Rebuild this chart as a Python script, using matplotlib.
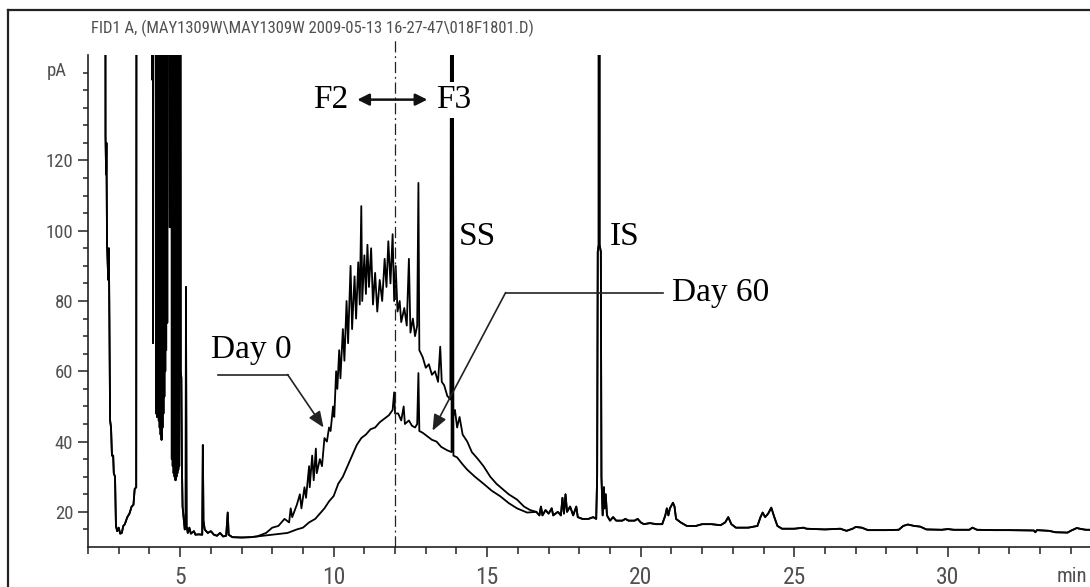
import matplotlib
matplotlib.use('Agg')
import numpy as np
import matplotlib.pyplot as plt
from matplotlib import font_manager
from matplotlib.lines import Line2D

# --- data (time in min, signal in pA) ---
# shared start of both runs (solvent + early peaks)
front_t = [2.00, 2.55, 2.57, 2.59, 2.60, 2.62, 2.66, 2.68, 2.72, 2.75, 2.78, 2.82, 2.84, 2.88,
           2.91, 2.95, 3.00, 3.05, 3.10, 3.15, 3.20, 3.28, 3.35, 3.42, 3.48, 3.52, 3.57, 3.59,
           4.08, 4.09, 4.10, 4.12, 4.14, 4.20, 4.215, 4.23, 4.245, 4.26, 4.275, 4.29, 4.305, 4.32,
           4.335, 4.35, 4.365, 4.38, 4.395, 4.41, 4.425, 4.44, 4.455, 4.47, 4.485, 4.50, 4.515,
           4.53, 4.545, 4.56, 4.58, 4.60, 4.66, 4.69, 4.71, 4.73, 4.745, 4.76, 4.775, 4.79, 4.805,
           4.82, 4.835, 4.85, 4.865, 4.88, 4.895, 4.91, 4.925, 4.94, 4.955, 4.97, 4.985, 5.00,
           5.02, 5.04, 5.06, 5.08, 5.12, 5.15, 5.18,
           5.19, 5.21, 5.25, 5.30, 5.35, 5.45, 5.50, 5.60, 5.72, 5.74, 5.76, 5.80, 5.90, 6.00,
           6.10, 6.20, 6.30, 6.40, 6.50, 6.55, 6.58, 6.70, 7.00, 7.30]
front_v = [400, 400, 127, 116, 125, 96, 86, 95, 46, 44, 36, 36, 31, 30,
           16, 14.5, 15.5, 13.8, 14, 16, 16.5, 18.5, 19.5, 21.5, 22, 26.5, 27, 400,
           400, 143, 400, 68, 400, 400, 48, 400, 47, 400, 50, 400, 46, 400,
           44, 400, 42, 400, 40.5, 400, 44, 400, 48, 400, 52.8, 400, 60,
           400, 66, 400, 73.8, 400, 101, 101, 400, 35, 400, 33, 400, 31, 400,
           30, 400, 29, 400, 30, 400, 31, 400, 32, 400, 33, 400, 400,
           60, 58, 32, 21.5, 17.8, 15, 15.5,
           84, 16, 14, 15.5, 13.8, 14.5, 13.5, 13.6, 13.5, 39, 17.5, 15, 14, 14.5,
           13.5, 13.2, 14, 13, 13.2, 19.8, 13.5, 12.8, 12.7, 12.8]

# Day 0 hump (7.5 - 16.4 min)
day0_t = [7.50, 7.80, 8.00, 8.20, 8.40, 8.55, 8.60, 8.65, 8.80, 8.90, 8.95, 9.05, 9.10, 9.20,
          9.22, 9.30, 9.35, 9.42, 9.45, 9.55, 9.62, 9.70, 9.78, 9.85, 9.90, 9.98, 10.02, 10.08,
          10.12, 10.18, 10.22, 10.30, 10.35, 10.42, 10.47, 10.55, 10.60, 10.68, 10.73, 10.80,
          10.85, 10.90, 10.93, 11.00, 11.05, 11.10, 11.15, 11.22, 11.28, 11.35, 11.42, 11.50,
          11.58, 11.66, 11.72, 11.78, 11.85, 11.92, 11.97, 12.02, 12.08, 12.15, 12.20, 12.30,
          12.38, 12.45, 12.50, 12.58, 12.65, 12.72, 12.76, 12.79, 12.90, 13.00, 13.10, 13.20,
          13.30, 13.40, 13.47, 13.52, 13.60, 13.70, 13.80, 13.86, 13.89, 13.95, 14.02, 14.10,
          14.20, 14.35, 14.50, 14.70, 14.88, 15.10, 15.30, 15.50, 15.70, 15.97, 16.20, 16.40]
day0_v = [13, 14, 15.5, 16, 18, 17, 21, 18.5, 22, 25, 21, 27, 24, 33,
          27, 36, 29, 38, 31, 35, 33, 41, 40, 44, 43, 50, 47, 60,
          55, 66, 58, 72, 63, 80, 68, 90, 72, 87, 75, 91,
          79, 107, 80, 93, 82, 96, 84, 95, 79, 88, 77, 86,
          80, 92, 84, 97, 85, 99, 80, 90, 77, 80, 74, 78,
          73, 92, 71, 75, 70, 73, 113.6, 66, 64, 61, 62, 59,
          60, 57, 67, 57, 56, 53, 52, 400, 47, 49, 44, 47,
          42, 40, 37, 35, 33, 30, 28, 26.5, 25, 23.5, 21.5, 20.5]

# Day 60 hump (7.5 - 16.3 min)
day60_t = [7.50, 8.00, 8.50, 8.80, 9.00, 9.20, 9.40, 9.50, 9.70, 9.85, 10.00, 10.15, 10.30,
           10.45, 10.60, 10.75, 10.90, 11.05, 11.20, 11.35, 11.50, 11.65, 11.80, 11.92, 11.97,
           12.00, 12.10, 12.20, 12.28, 12.32, 12.45, 12.55, 12.65, 12.72, 12.76, 12.79, 12.90,
           13.05, 13.20, 13.35, 13.50, 13.70, 13.84, 13.86, 13.90, 14.02, 14.20, 14.35, 14.60,
           14.88, 15.15, 15.43, 15.70, 15.97, 16.30]
day60_v = [13, 13.5, 14, 15, 15.5, 17, 18, 19, 21, 23, 24.5, 28, 30,
           33, 36, 39, 41, 42, 43.5, 44, 45.5, 46.5, 47.5, 49, 54,
           48, 48, 46, 50, 45, 46, 44.5, 44, 45, 59.5, 43, 42.5,
           41.5, 40.5, 40, 38.5, 37.5, 37, 400, 36, 35.5, 33.5, 32, 30,
           28, 26, 24.4, 22.5, 21, 19.8]

# shared tail of both runs (IS peak and late baseline)
tail_t = [16.60, 16.70, 16.75, 16.80, 16.90, 17.00, 17.10, 17.15, 17.30, 17.40, 17.45, 17.50,
          17.55, 17.60, 17.70, 17.80, 17.90, 17.95, 18.10, 18.30, 18.45, 18.55, 18.58, 18.60,
          18.63, 18.635, 18.655, 18.66, 18.70, 18.72, 18.76, 18.80, 18.82, 18.86, 18.90, 19.00,
          19.10, 19.20,
          19.40, 19.50, 19.60, 19.80, 19.90, 20.00, 20.10, 20.30, 20.50, 20.70, 20.80, 20.85,
          20.90, 20.95, 21.05, 21.10, 21.15, 21.30, 21.50, 21.80, 22.00, 22.30, 22.60, 22.75,
          22.85, 22.95, 23.10, 23.50, 23.80, 23.90, 23.97, 24.05, 24.15, 24.25, 24.35, 24.45,
          24.60, 25.00, 25.30, 25.40, 26.00, 26.50, 26.70, 26.90, 27.00, 27.20, 27.40, 28.00,
          28.40, 28.55, 28.70, 28.90, 29.10, 29.30, 29.80, 30.00, 30.20, 30.70, 30.80, 30.95,
          31.50, 32.00, 32.80, 32.85, 32.90, 33.30, 33.50, 33.90, 34.00, 34.20, 34.35, 34.50,
          34.70]
tail_v = [20, 19, 21.5, 19, 20.5, 19.5, 21, 19, 20, 19, 24, 19.5,
          25, 20, 21.5, 19, 21.5, 18.5, 18, 18, 18.5, 18, 30, 94,
          96, 400, 400, 96, 94, 30, 19, 27, 21, 25, 19, 17.5,
          18.5, 17.5,
          17.5, 18, 17.5, 17.5, 18, 17, 16.5, 16.8, 16.5, 16.5, 19, 21,
          19, 21, 22.6, 21.5, 18, 17, 16, 16, 16.5, 16.5, 16.2, 17,
          18.5, 16.5, 15.5, 15.5, 16, 18.5, 19.8, 18.5, 19.5, 21.2, 18.5, 16,
          15.2, 15.2, 15.5, 15.2, 15, 15.2, 14.6, 15.2, 15.7, 15.5, 14.8, 14.8,
          14.9, 16, 16.4, 16, 15.8, 15, 14.9, 15.1, 14.9, 14.9, 15.5, 14.9,
          14.8, 14.8, 14.7, 14.2, 14.8, 14.6, 14.2, 14.1, 14.6, 15.4, 15.1, 14.9,
          14.9]

x_ticks = [5, 10, 15, 20, 25, 30]
y_ticks = [20, 40, 60, 80, 100, 120]
title = 'FID1 A, (MAY1309W\\MAY1309W 2009-05-13 16-27-47\\018F1801.D)'

# fonts
avail = {f.name for f in font_manager.fontManager.ttflist}
narrow = next((n for n in ['Liberation Sans Narrow', 'Roboto Condensed', 'DejaVu Sans Condensed']
               if n in avail), 'DejaVu Sans')
serif = 'Liberation Serif' if 'Liberation Serif' in avail else 'DejaVu Serif'
grey = '#505050'
fam = [narrow, 'DejaVu Sans']

fig = plt.figure(figsize=(10.9, 5.87), dpi=100)
ax = fig.add_axes([88 / 1090, 40 / 587, 1 - 88 / 1090, 492 / 587])

t0 = front_t + day0_t + tail_t
v0 = front_v + day0_v + tail_v
t60 = front_t + day60_t + tail_t
v60 = front_v + day60_v + tail_v
ax.plot(t60, v60, color='black', lw=1.3)
ax.plot(t0, v0, color='black', lw=1.3)

ax.set_xlim(2.0, 34.63)
ax.set_ylim(10, 150)

for s in ['top', 'right']:
    ax.spines[s].set_visible(False)
for s in ['left', 'bottom']:
    ax.spines[s].set_color('#222222')
    ax.spines[s].set_linewidth(1.2)

ax.set_xticks(x_ticks)
ax.set_xticks(np.arange(2, 35, 1), minor=True)
ax.set_yticks(y_ticks)
ax.set_yticks(np.arange(15, 150, 5), minor=True)
ax.set_xticklabels([str(v) for v in x_ticks], family=fam, fontsize=17,
                   color=grey, fontstretch='condensed')
ax.set_yticklabels([str(v) for v in y_ticks], family=fam, fontsize=13.5,
                   color=grey, fontstretch='condensed')
ax.tick_params(axis='x', which='major', length=7.5, width=1.1, pad=6, color='#222222')
ax.tick_params(axis='x', which='minor', length=5, width=1.1, color='#222222')
ax.tick_params(axis='y', which='major', length=7.5, width=1.1, pad=3, color='#222222')
ax.tick_params(axis='y', which='minor', length=3.8, width=1.1, color='#222222')

# unit labels
fig.text(67 / 1090, 1 - 71 / 587, 'pA', ha='right', va='center', family=fam,
         fontsize=13.5, color=grey, fontstretch='condensed')
fig.text(1087 / 1090, 1 - 577 / 587, 'min', ha='right', va='center', family=fam,
         fontsize=15, color=grey, fontstretch='condensed')
fig.text(312 / 1090, 1 - 28 / 587, title, ha='center', va='center',
         family=fam, fontsize=12, color=grey, fontstretch='condensed')

# outer frame (left and top edges visible)
fig.add_artist(Line2D([8 / 1090, 8 / 1090], [0, 1 - 10 / 587], color='#222222', lw=1.6))
fig.add_artist(Line2D([8 / 1090, 1], [1 - 10 / 587, 1 - 10 / 587], color='#222222', lw=1.6))

# F2 / F3 cut point
ax.plot([12.0, 12.0], [10, 154.4], color='#222222', lw=0.9, ls=(0, (9, 3, 1.5, 3)), clip_on=False)
ax.annotate('', xy=(10.77, 137.3), xytext=(13.05, 137.3),
            arrowprops=dict(arrowstyle='<|-|>,head_length=0.5,head_width=0.25', color='#111111',
                            lw=1.8, mutation_scale=14, shrinkA=0, shrinkB=0))
ax.text(9.90, 137.3, 'F2', ha='center', va='center', family=serif, fontsize=24, color='black')
ax.text(13.92, 137.3, 'F3', ha='center', va='center', family=serif, fontsize=24, color='black',
        bbox=dict(fc='white', ec='none', pad=2))

ax.text(14.69, 98.3, 'SS', ha='center', va='center', family=serif, fontsize=24, color='black')
ax.text(19.48, 98.3, 'IS', ha='center', va='center', family=serif, fontsize=24, color='black')

# Day 0 label and leader
ax.text(7.33, 66.1, 'Day 0', ha='center', va='center', family=serif, fontsize=24, color='black')
ax.plot([6.23, 8.50], [59.06, 59.06], color='#222222', lw=1.2)
ax.annotate('', xy=(9.67, 44.0), xytext=(8.50, 59.06),
            arrowprops=dict(arrowstyle='-|>,head_length=0.6,head_width=0.25', color='#222222',
                            lw=1.2, mutation_scale=16, shrinkA=0, shrinkB=0))

# Day 60 label and leader
ax.text(21.03, 82.4, 'Day 60', ha='left', va='center', family=serif, fontsize=24, color='black')
ax.plot([15.60, 20.74], [82.4, 82.4], color='#222222', lw=1.2)
ax.annotate('', xy=(13.22, 43.1), xytext=(15.60, 82.4),
            arrowprops=dict(arrowstyle='-|>,head_length=0.6,head_width=0.25', color='#222222',
                            lw=1.2, mutation_scale=16, shrinkA=0, shrinkB=0))

fig.savefig('out.png', dpi=100)
